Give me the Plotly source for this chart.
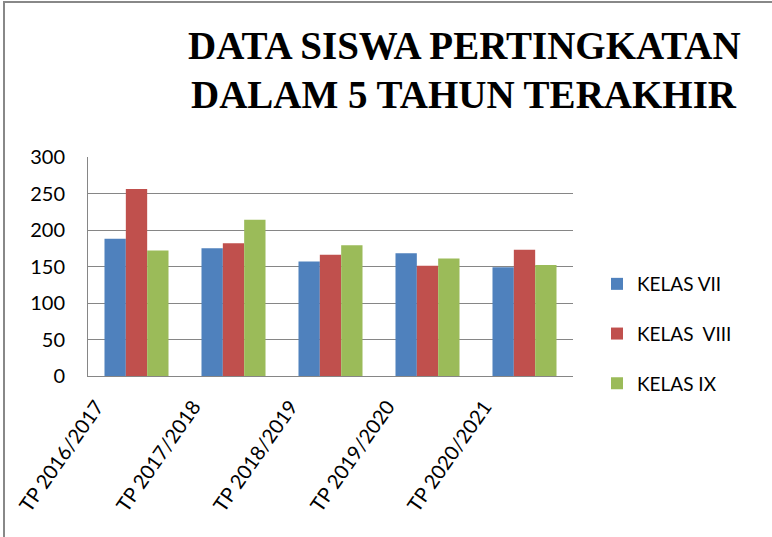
import plotly.graph_objects as go

categories = ["TP 2016/2017", "TP 2017/2018", "TP 2018/2019", "TP 2019/2020", "TP 2020/2021"]
kelas_vii = [188, 175, 157, 168, 149]
kelas_viii = [256, 182, 166, 151, 173]
kelas_ix = [172, 214, 179, 161, 152]
series_names = ["KELAS VII", "KELAS  VIII", "KELAS IX"]
colors = ["#4F81BD", "#C0504D", "#9BBB59"]
title_lines = ["DATA SISWA PERTINGKATAN", "DALAM 5 TAHUN TERAKHIR"]

OFF = 0  # body margin removed via post_script
W, H = 772, 537
# target plot area on screen: x 88..573, y 157..376
L = 88 - OFF
T = 157 - OFF
R = W - (573 - OFF)
B = H - (376 - OFF)
pw, ph = W - L - R, H - T - B


def px(x):
    return (x - OFF - L) / pw


def py(y):
    return (H - B - (y - OFF)) / ph


fig = go.Figure()
for i, (name, vals) in enumerate(zip(series_names, [kelas_vii, kelas_viii, kelas_ix])):
    fig.add_trace(go.Bar(
        x=categories, y=vals, name=name, legendgroup=f"g{i}",
        marker=dict(color=colors[i], line=dict(width=0)),
    ))

fig.update_layout(
    width=W, height=H,
    margin=dict(l=L, r=R, t=T, b=B, autoexpand=False),
    paper_bgcolor="white", plot_bgcolor="white",
    barmode="group", bargap=0.34, bargroupgap=0,
    font=dict(family="Lato, Open Sans, sans-serif", color="black"),
    legend=dict(
        x=px(597), xanchor="left", y=py(334), yanchor="middle",
        font=dict(size=19, color="black"),
        tracegroupgap=22, itemwidth=30,
        bgcolor="rgba(0,0,0,0)",
    ),
    showlegend=True,
)
for j, line in enumerate(title_lines):
    fig.add_annotation(
        text=f"<b>{line}</b>", xref="paper", yref="paper",
        x=px(464), xanchor="center",
        y=py([45, 95][j]), yanchor="middle",
        showarrow=False,
        font=dict(family="Liberation Serif, serif", size=39, color="black"),
    )
fig.update_xaxes(
    tickangle=-55, tickfont=dict(size=20, color="black"),
    showline=True, linecolor="#868686", linewidth=1, mirror=False,
    showgrid=False, ticks="", automargin=False,
    ticklabelstandoff=10, ticklabelshift=-40,
)
fig.update_yaxes(
    range=[0, 300], dtick=50, tickfont=dict(size=20, color="black"),
    showline=True, linecolor="#868686", linewidth=1,
    showgrid=True, gridcolor="#868686", gridwidth=1,
    zeroline=False, ticks="", automargin=False,
    ticklabelstandoff=18,
)
# chart frame
fig.add_shape(type="rect", xref="paper", yref="paper",
              x0=px(4), x1=px(W + 20),
              y0=py(H + 20), y1=py(2),
              line=dict(color="#888888", width=2), layer="below")

fig.write_html("out.html", config={"displayModeBar": False},
               post_script="document.body.style.margin='0';")
